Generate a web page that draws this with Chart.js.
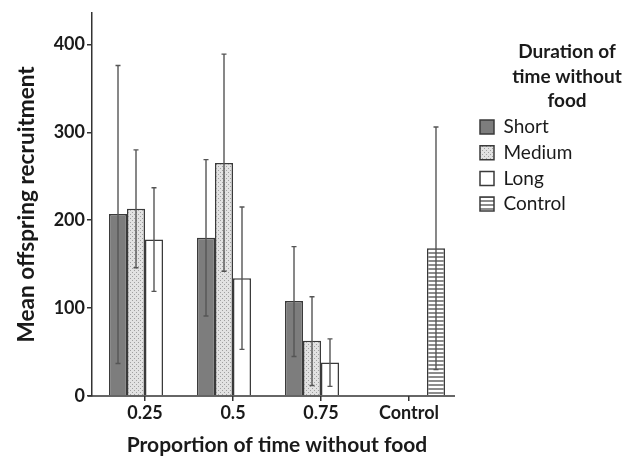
<!DOCTYPE html>
<html>
<head>
<meta charset="utf-8">
<script src="https://cdn.jsdelivr.net/npm/chart.js@4/dist/chart.umd.min.js"></script>
<style>
  html, body { margin: 0; padding: 0; background: #ffffff; }
  #wrap { width: 638px; height: 458px; }
</style>
</head>
<body>
<div id="wrap"><canvas id="c" width="638" height="458"></canvas></div>
<script>
// ---- data ----
const categories = ['0.25', '0.5', '0.75', 'Control'];
const seriesNames = ['Short', 'Medium', 'Long', 'Control'];
const shortMean   = [207, 180, 108, null];
const mediumMean  = [213, 265, 63, null];
const longMean    = [178, 134, 38, null];
const controlMean = [null, null, null, 168];
const shortUpper   = [376, 269, 170, null];
const shortLower   = [37, 91, 45, null];
const mediumUpper  = [280, 389, 113, null];
const mediumLower  = [146, 142, 12, null];
const longUpper    = [237, 215, 65, null];
const longLower    = [119, 53, 11, null];
const controlUpper = [null, null, null, 306];
const controlLower = [null, null, null, 30];
const yTickValues = [0, 100, 200, 300, 400];
const legendTitle = ['Duration of', 'time without', 'food'];
const xTitle = 'Proportion of time without food';
const yTitle = 'Mean offspring recruitment';

const upper = [shortUpper, mediumUpper, longUpper, controlUpper];
const lower = [shortLower, mediumLower, longLower, controlLower];

// ---- fill patterns ----
function dotPattern() {
  const c = document.createElement('canvas'); c.width = 4; c.height = 4;
  const g = c.getContext('2d');
  g.fillStyle = '#e2e2e2'; g.fillRect(0, 0, 4, 4);
  g.fillStyle = '#a0a0a0'; g.fillRect(0, 0, 1, 1); g.fillRect(2, 2, 1, 1);
  return g.createPattern(c, 'repeat');
}
function stripePattern() {
  const c = document.createElement('canvas'); c.width = 4; c.height = 4;
  const g = c.getContext('2d');
  g.fillStyle = '#ffffff'; g.fillRect(0, 0, 4, 4);
  g.fillStyle = '#8c8c8c'; g.fillRect(0, 0, 4, 2);
  return g.createPattern(c, 'repeat');
}
const ctx = document.getElementById('c').getContext('2d');
const fills = ['#7d7d7d', dotPattern(), '#ffffff', stripePattern()];
const means = [shortMean, mediumMean, longMean, controlMean];

const FONT = 'Lato';
const TXT = '#1a1a1a';
const AX = '#333333';

const errorBars = {
  id: 'errorBars',
  afterDatasetsDraw(chart) {
    const y = chart.scales.y;
    const g = chart.ctx;
    g.save();
    g.strokeStyle = '#555555';
    g.lineWidth = 1.4;
    chart.data.datasets.forEach((ds, i) => {
      const meta = chart.getDatasetMeta(i);
      meta.data.forEach((el, j) => {
        const hi = upper[i][j], lo = lower[i][j];
        if (hi == null || lo == null || ds.data[j] == null) return;
        const x = el.x;
        const y1 = y.getPixelForValue(hi), y2 = y.getPixelForValue(lo);
        g.beginPath();
        g.moveTo(x, y1); g.lineTo(x, y2);
        g.moveTo(x - 2.5, y1); g.lineTo(x + 2.5, y1);
        g.moveTo(x - 2.5, y2); g.lineTo(x + 2.5, y2);
        g.stroke();
      });
    });
    g.restore();
  }
};

const axesAndTitle = {
  id: 'axesAndTitle',
  beforeLayout(chart) {
    const lg = chart.legend;
    if (lg && !lg._fixedWidth) {
      const f = lg.fit;
      lg.fit = function () { f.call(this); this.width = 164.7; };
      lg._fixedWidth = true;
    }
  },
  afterDraw(chart) {
    const g = chart.ctx;
    const a = chart.chartArea;
    g.save();
    g.strokeStyle = AX;
    g.lineWidth = 1.5;
    g.beginPath();
    g.moveTo(chart.scales.y.right - 4, a.bottom);
    g.lineTo(a.right + 2, a.bottom);
    g.stroke();
    g.fillStyle = TXT;
    g.font = 'bold 19px ' + FONT;
    g.textAlign = 'center';
    g.textBaseline = 'middle';
    const lx = 567;
    const ly = [52, 77, 101];
    legendTitle.forEach((t, k) => g.fillText(t, lx, ly[k]));
    g.restore();
  }
};

new Chart(ctx, {
  type: 'bar',
  data: {
    labels: categories,
    datasets: seriesNames.map((name, i) => ({
      label: name,
      data: means[i],
      backgroundColor: fills[i],
      borderColor: '#3a3a3a',
      borderWidth: 1.5,
      categoryPercentage: 0.818,
      barPercentage: 1.0
    }))
  },
  options: {
    responsive: false,
    animation: false,
    layout: { padding: { top: 12, left: 0, right: 0, bottom: 0 } },
    plugins: {
      tooltip: { enabled: false },
      legend: {
        position: 'right',
        align: 'start',
        title: { display: true, text: '', font: { size: 16 }, padding: { top: 0, bottom: 79.6 } },
        labels: {
          boxWidth: 14, boxHeight: 14, padding: 6.7,
          color: TXT,
          font: { family: FONT, size: 19 }
        }
      }
    },
    scales: {
      x: {
        offset: true,
        grid: { display: true, drawOnChartArea: false, drawTicks: true, tickLength: 5, offset: false, color: AX, lineWidth: 1.5 },
        border: { display: false },
        ticks: { color: TXT, font: { family: FONT, size: 18, weight: 'bold' }, padding: 1, maxRotation: 0 },
        title: { display: true, text: xTitle, color: TXT, font: { family: FONT, size: 21, weight: 'bold' }, padding: { top: 0, bottom: 0 } },
        afterFit(s) { s.height = 62; }
      },
      y: {
        position: 'left',
        weight: 1,
        min: 0,
        max: 436,
        afterBuildTicks(s) { s.ticks = yTickValues.map(v => ({ value: v })); },
        grid: { display: true, drawOnChartArea: false, drawTicks: true, tickLength: 5, color: AX, lineWidth: 1.5 },
        border: { display: true, color: AX, width: 1.5 },
        ticks: { color: TXT, font: { family: FONT, size: 18, weight: 'bold' }, padding: 2 },
        title: { display: true, text: yTitle, color: TXT, font: { family: FONT, size: 22.6, weight: 'bold' }, padding: { top: 13.4, bottom: 0 } },
        afterFit(s) { s.width = 92; }
      },
      gapLeft: {
        type: 'linear',
        position: 'left',
        weight: 0,
        display: true,
        grid: { display: false },
        border: { display: false },
        ticks: { display: false },
        afterFit(s) { s.width = 9; }
      },
      gapRight: {
        type: 'linear',
        position: 'right',
        weight: 0,
        display: true,
        grid: { display: false },
        border: { display: false },
        ticks: { display: false },
        afterFit(s) { s.width = 20.3; }
      }
    }
  },
  plugins: [errorBars, axesAndTitle]
});
</script>
</body>
</html>
